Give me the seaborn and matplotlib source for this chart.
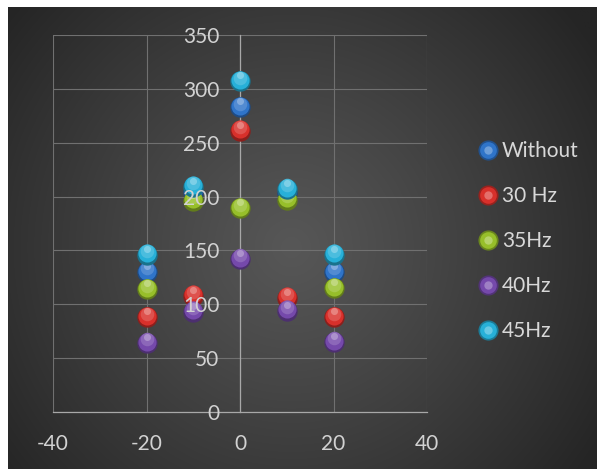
import numpy as np
import pandas as pd
import matplotlib
matplotlib.use("Agg")
import matplotlib.pyplot as plt
import matplotlib.transforms as mtransforms
import matplotlib.colors as mcolors
from matplotlib.lines import Line2D
from matplotlib.legend_handler import HandlerTuple
import seaborn as sns

# ---------------- data ----------------
x_vals = [-20, -10, 0, 10, 20]
series_names = ["Without", "30 Hz", "35Hz", "40Hz", "45Hz"]
without = [130, 204, 283, 203, 130]
hz30 = [88, 108, 261, 106, 88]
hz35 = [114, 196, 189, 197, 115]
hz40 = [64, 93, 142, 94, 65]
hz45 = [146, 209, 307, 207, 146]
series_values = [without, hz30, hz35, hz40, hz45]
x_ticks = [-40, -20, 0, 20, 40]
y_ticks = [0, 50, 100, 150, 200, 250, 300, 350]

colors = ["#2f74c9", "#d8302b", "#97bf2a", "#7549ab", "#27b0d8"]

df = pd.DataFrame({
    "x": np.tile(x_vals, len(series_names)),
    "y": np.concatenate(series_values),
    "series": np.repeat(series_names, len(x_vals)),
})

sns.set_style("white")
plt.rcParams["font.family"] = ["Lato", "DejaVu Sans"]
plt.rcParams["axes.unicode_minus"] = False

W, H = 597, 469
fig = plt.figure(figsize=(W / 100, H / 100), dpi=100)
fig.patch.set_facecolor("white")

# ---------------- radial gradient background ----------------
bg = fig.add_axes([8 / W, 0, (W - 8) / W, (H - 7) / H], zorder=0)
gh, gw = 300, 380
yy, xx = np.mgrid[0:gh, 0:gw]
cx, cy = 0.48 * gw, 0.52 * gh
r = np.sqrt(((xx - cx) / (0.62 * gw)) ** 2 + ((yy - cy) / (0.80 * gh)) ** 2)
r = np.clip(r, 0, 1)
c0, c1 = 0x57 / 255, 0x25 / 255
v = c0 - (c0 - c1) * r ** 1.1
img = np.dstack([v, v, v])
bg.imshow(img, aspect="auto", extent=[0, 1, 0, 1], interpolation="bilinear")
bg.set_axis_off()

# ---------------- main axes ----------------
rect = [53 / W, 1 - 412 / H, (427 - 53) / W, (412 - 35) / H]
ax = fig.add_axes(rect, zorder=1)
ax.patch.set_alpha(0)


def lighten(c, amt):
    rgb = np.array(mcolors.to_rgb(c))
    return tuple(rgb + (1 - rgb) * amt)


def darken(c, amt):
    rgb = np.array(mcolors.to_rgb(c))
    return tuple(rgb * (1 - amt))


layers = [  # (color func, size, dy points, alpha)
    (lambda c: darken(c, 0.35), 215, 0.0, 1.0),
    (lambda c: c, 170, 1.0, 1.0),
    (lambda c: lighten(c, 0.2), 95, 2.6, 0.85),
    (lambda c: lighten(c, 0.5), 26, 4.3, 0.7),
]

z = 3
for name, col in zip(series_names, colors):
    sub = df[df["series"] == name]
    for cf, s, dy, a in layers:
        n_before = len(ax.collections)
        sns.scatterplot(data=sub, x="x", y="y", ax=ax, color=cf(col), s=s,
                        linewidth=0, alpha=a, legend=False, zorder=z)
        coll = ax.collections[n_before]
        coll.set_offset_transform(ax.transData + mtransforms.ScaledTranslation(0, dy / 72, fig.dpi_scale_trans))
        coll.set_zorder(z)
        z += 0.1

ax.set_xlim(-40, 40)
ax.set_ylim(0, 350)
ax.set_xticks(x_ticks)
ax.set_yticks(y_ticks)
ax.set_xlabel("")
ax.set_ylabel("")
ax.grid(True, color="#707070", linewidth=0.8)
ax.set_axisbelow(True)

for sp in ["top", "right"]:
    ax.spines[sp].set_visible(False)
ax.spines["left"].set_position(("data", 0))
ax.spines["left"].set_color("#a8a8a8")
ax.spines["bottom"].set_color("#a8a8a8")
ax.spines["left"].set_linewidth(0.9)
ax.spines["bottom"].set_linewidth(0.9)
ax.tick_params(axis="both", length=0, labelleft=False, labelbottom=False)

# overlay axes carrying only the tick labels (drawn above the markers)
lab = fig.add_axes(rect, zorder=5, sharex=ax, sharey=ax)
lab.patch.set_alpha(0)
lab.grid(False)
for sp in lab.spines.values():
    sp.set_visible(False)
lab.spines["left"].set_position(("data", 0))
lab.tick_params(axis="both", length=0, labelsize=15, colors="#d2d2d2")
lab.tick_params(axis="y", pad=15)
lab.tick_params(axis="x", pad=16)

# ---------------- legend ----------------
handles = []
for col in colors:
    h = (
        Line2D([], [], ls="none", marker="o", ms=14.5, mfc=darken(col, 0.3), mec="none"),
        Line2D([], [], ls="none", marker="o", ms=12, mfc=col, mec="none"),
        Line2D([], [], ls="none", marker="o", ms=6, mfc=lighten(col, 0.3), mec="none"),
    )
    handles.append(h)

lab.legend(handles, series_names, handler_map={tuple: HandlerTuple(ndivide=1, pad=0)},
           loc="upper left", bbox_to_anchor=(479 / W, 1 - 141 / H),
           bbox_transform=fig.transFigure, frameon=False, fontsize=15,
           labelcolor="#d8d8d8", handlelength=0.85, handletextpad=0.25,
           labelspacing=1.2, borderpad=0, borderaxespad=0)

fig.savefig("out.png", dpi=100, facecolor=fig.get_facecolor())
